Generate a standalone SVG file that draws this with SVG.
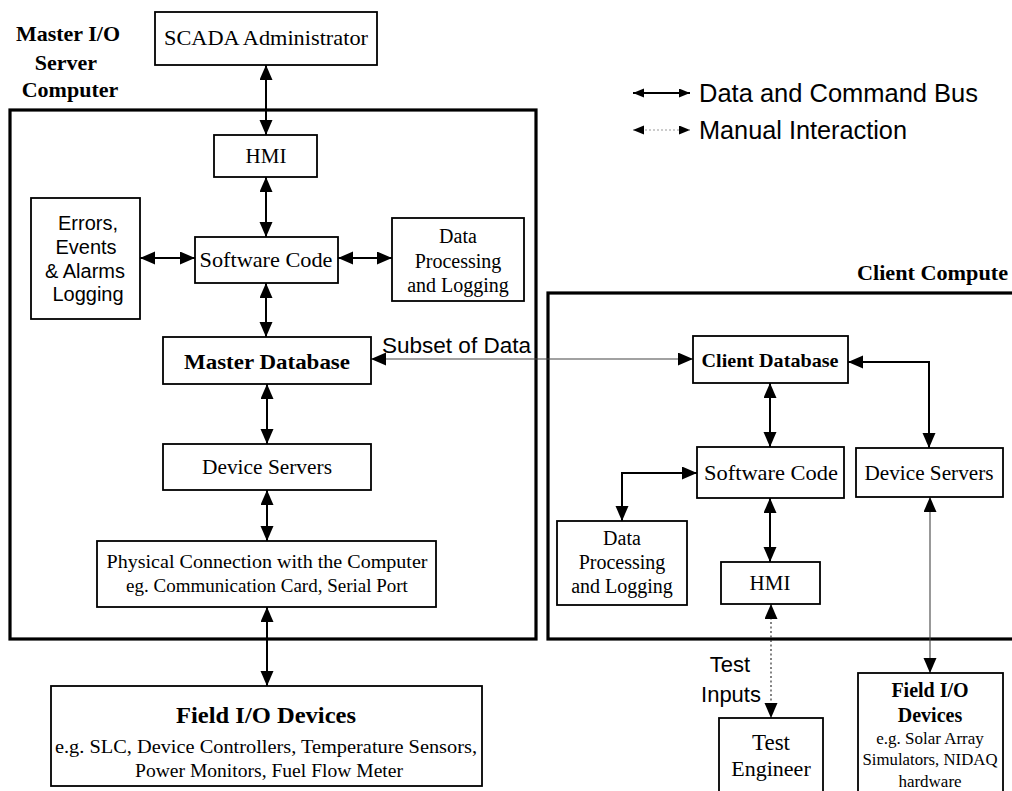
<svg xmlns="http://www.w3.org/2000/svg" width="1012" height="791" viewBox="0 0 1012 791">
  <style>
    .box { fill: #fff; stroke: #000; stroke-width: 1.8; }
    .frame { fill: none; stroke: #000; stroke-width: 3.2; }
    .bus { fill: none; stroke: #000; stroke-width: 2; marker-start: url(#ah); marker-end: url(#ah); }
    .thin { fill: none; stroke: #444; stroke-width: 1.1; marker-start: url(#ah); marker-end: url(#ah); }
    .dot { fill: none; stroke: #333; stroke-width: 1.2; stroke-dasharray: 2 2.5; marker-start: url(#ah); marker-end: url(#ah); }
    .serif { font-family: "Liberation Serif", "Times New Roman", serif; fill: #000; }
    .sans { font-family: "Liberation Sans", Arial, sans-serif; fill: #000; }
    .bold { font-weight: bold; }
    .mid { text-anchor: middle; }
  </style>
  <defs>
    <marker id="ah" markerUnits="userSpaceOnUse" markerWidth="16" markerHeight="14" refX="15" refY="6.5" orient="auto-start-reverse">
      <path d="M0,0 L15,6.5 L0,13 z" fill="#000"/>
    </marker>
    <marker id="ahs" markerUnits="userSpaceOnUse" markerWidth="12" markerHeight="10" refX="11" refY="4.5" orient="auto-start-reverse">
      <path d="M0,0 L11,4.5 L0,9 z" fill="#000"/>
    </marker>
  </defs>

  <rect width="1012" height="791" fill="#fff"/>

  <!-- enclosing computers -->
  <g id="master-computer">
    <rect class="frame" x="10" y="110" width="526" height="529"/>
    <text class="serif bold mid" font-size="22" x="68" y="41">Master I/O</text>
    <text class="serif bold mid" font-size="22" x="66" y="70">Server</text>
    <text class="serif bold mid" font-size="22" x="70" y="97">Computer</text>
  </g>
  <g id="client-computer">
    <rect class="frame" x="548" y="293" width="480" height="346"/>
    <text class="serif bold" font-size="22" x="857" y="280" textLength="151" lengthAdjust="spacingAndGlyphs">Client Compute</text>
  </g>

  <!-- legend -->
  <g id="legend">
    <line x1="633" y1="93" x2="690" y2="93" stroke="#000" stroke-width="2" marker-start="url(#ahs)" marker-end="url(#ahs)"/>
    <text class="sans" font-size="25" x="699" y="102" textLength="279" lengthAdjust="spacingAndGlyphs">Data and Command Bus</text>
    <line x1="633" y1="130" x2="690" y2="130" stroke="#999" stroke-width="1" stroke-dasharray="2 2" marker-start="url(#ahs)" marker-end="url(#ahs)"/>
    <text class="sans" font-size="25" x="699" y="139" textLength="208" lengthAdjust="spacingAndGlyphs">Manual Interaction</text>
  </g>

  <!-- connectors -->
  <g id="connectors">
    <line class="bus" x1="266" y1="65" x2="266" y2="135"/>
    <line class="bus" x1="266" y1="177" x2="266" y2="237"/>
    <line class="bus" x1="140" y1="258" x2="195" y2="258"/>
    <line class="bus" x1="338" y1="258" x2="392" y2="258"/>
    <line class="bus" x1="266" y1="283" x2="266" y2="337"/>
    <line class="bus" x1="267" y1="384" x2="267" y2="444"/>
    <line class="bus" x1="267" y1="490" x2="267" y2="541"/>
    <line class="bus" x1="267" y1="607" x2="267" y2="686"/>
    <line class="thin" x1="371" y1="359" x2="693" y2="359"/>
    <polyline class="bus" points="848,362 929,362 929,448"/>
    <line class="bus" x1="770" y1="383" x2="770" y2="447"/>
    <polyline class="bus" points="697,473 622,473 622,521"/>
    <line class="bus" x1="770" y1="498" x2="770" y2="562"/>
    <line class="dot" x1="771" y1="604" x2="771" y2="718"/>
    <line class="thin" x1="930" y1="497" x2="930" y2="673"/>
    <text class="sans" font-size="22" x="382" y="353" textLength="149" lengthAdjust="spacingAndGlyphs">Subset of Data</text>
    <text class="sans mid" font-size="22" x="730" y="672">Test</text>
    <text class="sans mid" font-size="22" x="731" y="702">Inputs</text>
  </g>

  <!-- master server nodes -->
  <g id="scada-admin">
    <rect class="box" x="155" y="12" width="222" height="53"/>
    <text class="serif mid" font-size="21" x="266" y="45" textLength="204" lengthAdjust="spacingAndGlyphs">SCADA Administrator</text>
  </g>
  <g id="master-hmi">
    <rect class="box" x="214" y="135" width="103" height="42"/>
    <text class="serif mid" font-size="21" x="266" y="163">HMI</text>
  </g>
  <g id="master-software-code">
    <rect class="box" x="195" y="237" width="143" height="46"/>
    <text class="serif mid" font-size="22" x="266" y="267" textLength="133" lengthAdjust="spacingAndGlyphs">Software Code</text>
  </g>
  <g id="master-errors-log">
    <rect class="box" x="31" y="198" width="109" height="121"/>
    <text class="sans mid" font-size="20" x="88" y="230">Errors,</text>
    <text class="sans mid" font-size="20" x="86" y="254">Events</text>
    <text class="sans mid" font-size="20" x="85" y="278">&amp; Alarms</text>
    <text class="sans mid" font-size="20" x="88" y="301">Logging</text>
  </g>
  <g id="master-data-processing">
    <rect class="box" x="392" y="218" width="132" height="83"/>
    <text class="serif mid" font-size="20" x="458" y="243">Data</text>
    <text class="serif mid" font-size="20" x="458" y="268">Processing</text>
    <text class="serif mid" font-size="20" x="458" y="292">and Logging</text>
  </g>
  <g id="master-database">
    <rect class="box" x="163" y="337" width="208" height="47"/>
    <text class="serif bold mid" font-size="22" x="267" y="369" textLength="166" lengthAdjust="spacingAndGlyphs">Master Database</text>
  </g>
  <g id="master-device-servers">
    <rect class="box" x="163" y="444" width="208" height="46"/>
    <text class="serif mid" font-size="21" x="267" y="474" textLength="130" lengthAdjust="spacingAndGlyphs">Device Servers</text>
  </g>
  <g id="physical-connection">
    <rect class="box" x="97" y="541" width="339" height="66"/>
    <text class="serif mid" font-size="19" x="267" y="568" textLength="321" lengthAdjust="spacingAndGlyphs">Physical Connection with the Computer</text>
    <text class="serif mid" font-size="19" x="267" y="592">eg. Communication Card, Serial Port</text>
  </g>
  <g id="master-field-devices">
    <rect class="box" x="51" y="686" width="431" height="100"/>
    <text class="serif bold mid" font-size="24" x="266" y="723" textLength="180" lengthAdjust="spacingAndGlyphs">Field I/O Devices</text>
    <text class="serif mid" font-size="19" x="266" y="753" textLength="422" lengthAdjust="spacingAndGlyphs">e.g. SLC, Device Controllers, Temperature Sensors,</text>
    <text class="serif mid" font-size="19" x="269" y="777" textLength="268" lengthAdjust="spacingAndGlyphs">Power Monitors, Fuel Flow Meter</text>
  </g>

  <!-- client computer nodes -->
  <g id="client-database">
    <rect class="box" x="693" y="336" width="155" height="47"/>
    <text class="serif bold mid" font-size="19" x="770" y="367" textLength="137" lengthAdjust="spacingAndGlyphs">Client Database</text>
  </g>
  <g id="client-software-code">
    <rect class="box" x="697" y="447" width="147" height="51"/>
    <text class="serif mid" font-size="22" x="771" y="480" textLength="134" lengthAdjust="spacingAndGlyphs">Software Code</text>
  </g>
  <g id="client-device-servers">
    <rect class="box" x="856" y="448" width="147" height="49"/>
    <text class="serif mid" font-size="21" x="929" y="480" textLength="129" lengthAdjust="spacingAndGlyphs">Device Servers</text>
  </g>
  <g id="client-data-processing">
    <rect class="box" x="557" y="521" width="130" height="84"/>
    <text class="serif mid" font-size="20" x="622" y="545">Data</text>
    <text class="serif mid" font-size="20" x="622" y="569">Processing</text>
    <text class="serif mid" font-size="20" x="622" y="593">and Logging</text>
  </g>
  <g id="client-hmi">
    <rect class="box" x="721" y="562" width="99" height="42"/>
    <text class="serif mid" font-size="21" x="770" y="590">HMI</text>
  </g>
  <g id="test-engineer">
    <rect class="box" x="719" y="718" width="104" height="100"/>
    <text class="serif mid" font-size="23" x="771" y="750">Test</text>
    <text class="serif mid" font-size="22" x="771" y="776">Engineer</text>
  </g>
  <g id="client-field-devices">
    <rect class="box" x="858" y="673" width="145" height="140"/>
    <text class="serif bold mid" font-size="20" x="930" y="697">Field I/O</text>
    <text class="serif bold mid" font-size="20" x="930" y="722">Devices</text>
    <text class="serif mid" font-size="17" x="930" y="744">e.g. Solar Array</text>
    <text class="serif mid" font-size="17" x="930" y="765" textLength="135" lengthAdjust="spacingAndGlyphs">Simulators, NIDAQ</text>
    <text class="serif mid" font-size="17" x="930" y="787">hardware</text>
  </g>
</svg>
